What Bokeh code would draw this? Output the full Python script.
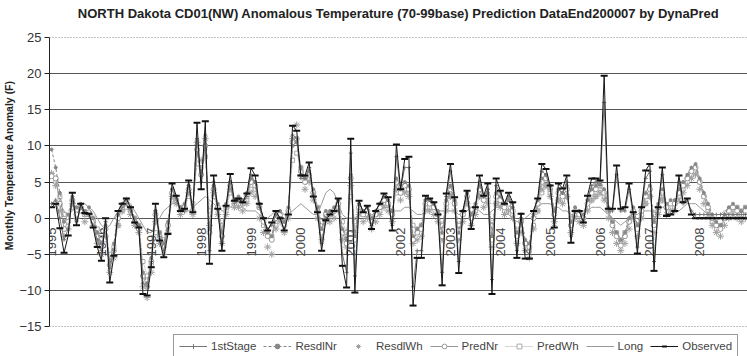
import math
from bokeh.plotting import figure
from bokeh.models import Range1d, FixedTicker, Span, Legend, LegendItem
from bokeh.core.properties import value
from bokeh.embed import file_html
from bokeh.resources import INLINE

FONT = "'Liberation Sans', Arial, sans-serif"

years = ["1995", "1996", "1997", "1998", "1999", "2000", "2001",
         "2002", "2003", "2004", "2005", "2006", "2007", "2008"]
months = list(range(168))  # Jan 1995 .. Dec 2008
year_pos = [12 * i for i in range(len(years))]

observed = [
    1.5, 2.0, -1.4, -4.8, -2.4, 3.5, -1.0, 2.0, 0.7, 0.6, -1.3, -4.0,
    -5.9, 0.0, -8.9, -5.2, 1.0, 2.0, 2.7, 1.5, -0.6, -1.3, -10.5, -10.7,
    -6.8, 2.0, -3.1, -5.4, -2.2, 4.8, 3.1, 1.0, 1.3, 5.2, 0.8, 13.2,
    4.0, 13.4, -6.3, 5.9, 1.3, -4.5, 1.7, 6.1, 2.4, 2.7, 2.2, 3.4,
    6.9, 5.9, 2.0, 0.0, -1.7, -0.6, 1.0, 0.0, -1.7, 0.5, 12.8, 12.1,
    5.9, 5.9, 7.7, 3.0, 0.8, -4.5, -0.3, 0.5, 1.0, 2.7, -6.6, -9.6,
    11.0, -10.3, 2.4, 0.8, 1.7, -1.5, 1.0, 2.0, 3.4, 2.9, -1.7, 10.2,
    4.0, 8.2, 8.5, -12.1, -5.5, -5.5, 3.1, 2.7, 2.2, 0.5, -9.3, 3.4,
    7.5, 2.9, -7.6, 1.0, 3.8, -1.5, 1.5, 5.9, 3.1, 4.8, -10.5, 5.5,
    3.8, 2.0, 3.5, 2.2, -5.5, 0.6, -5.6, -5.6, 1.0, 2.7, 7.5, 6.8,
    4.5, -1.3, 4.8, 4.1, 5.9, -3.4, 1.0, 1.0, -0.6, 3.1, 5.5, 5.5,
    5.2, 19.7, 1.3, 1.3, 7.3, 1.3, 1.5, 4.8, 0.8, -4.9, 1.5, 6.6,
    7.5, -7.3, 1.5, 7.0, 0.3, 0.5, 1.0, 5.9, 2.2, 2.7, 0.5, 0.0,
    0.0, 0.0, 0.0, 0.0, 0.0, 0.0, 0.0, 0.0, 0.0, 0.0, 0.0, 0.0,
]

first_stage = [
    2.0, 2.5, 0.0, -3.0, -1.5, 2.5, -0.5, 1.5, 0.5, 0.5, -1.0, -3.0,
    -4.5, -0.5, -7.0, -4.5, 0.5, 1.5, 2.0, 1.0, -0.5, -1.0, -9.0, -9.5,
    -6.0, 1.0, -2.5, -4.5, -1.5, 4.0, 2.5, 1.0, 1.0, 4.5, 1.0, 11.0,
    5.0, 11.5, -4.5, 5.0, 1.0, -3.5, 1.5, 5.0, 2.0, 2.5, 2.0, 3.0,
    6.0, 5.0, 1.5, 0.0, -1.5, -1.0, 0.5, 0.0, -1.5, 0.5, 11.5, 11.0,
    5.5, 5.5, 7.0, 3.0, 1.0, -3.5, 0.0, 0.5, 1.0, 2.5, -5.0, -7.5,
    9.0, -8.0, 2.0, 1.0, 1.5, -1.0, 1.0, 2.0, 3.0, 2.5, -1.0, 8.5,
    4.0, 7.0, 7.0, -9.5, -4.5, -4.5, 2.5, 2.5, 2.0, 0.5, -7.5, 3.0,
    6.5, 2.5, -6.0, 1.0, 3.5, -1.0, 1.5, 5.0, 3.0, 4.0, -8.5, 4.5,
    3.5, 2.0, 3.0, 2.0, -4.5, 0.5, -4.5, -5.0, 1.0, 2.5, 6.5, 6.0,
    4.0, -1.0, 4.0, 3.5, 5.0, -2.5, 1.0, 1.0, -0.5, 2.5, 4.5, 5.0,
    4.5, 16.0, 1.0, 1.0, 6.0, 1.0, 1.0, 4.0, 0.5, -4.0, 1.5, 5.5,
    6.5, -6.0, 1.5, 6.0, 0.5, 0.5, 1.0, 5.0, 2.0, 2.5, 1.0, 0.5,
    0.5, 0.5, 0.5, 0.5, 0.5, 0.5, 0.5, 0.5, 0.5, 0.5, 0.5, 0.5,
]

resdl_nr = [
    9.5, 7.0, 3.5, -0.5, 0.5, 3.0, 1.5, 2.0, 1.0, 1.5, 0.0, -2.0,
    -3.5, -1.0, -6.0, -3.5, 0.5, 2.0, 2.5, 1.5, 0.0, -1.0, -7.5, -9.0,
    -5.5, 1.0, -2.0, -3.5, -0.5, 4.0, 3.0, 1.5, 2.0, 4.5, 1.5, 9.0,
    6.5, 9.5, -1.5, 4.5, 2.0, -2.0, 2.0, 5.0, 2.5, 3.0, 2.5, 3.5,
    5.5, 5.0, 2.0, 0.0, -2.0, -2.5, 0.5, 1.0, -0.5, 1.5, 10.0, 10.5,
    7.0, 5.5, 6.5, 4.0, 1.5, -1.5, 1.0, 1.0, 1.5, 2.5, -1.5, -3.0,
    6.0, -2.5, 2.0, 1.0, 1.5, 0.0, 1.0, 2.0, 3.0, 2.5, 1.0, 5.5,
    4.0, 5.0, 4.5, -2.5, -1.5, -1.0, 2.5, 2.5, 2.0, 1.0, -2.0, 2.5,
    4.5, 2.5, -2.0, 1.0, 3.5, 0.5, 2.0, 4.5, 3.0, 3.5, -2.5, 3.5,
    3.0, 2.0, 2.5, 1.5, -2.0, 0.0, -3.0, -3.5, 0.5, 2.5, 5.5, 6.0,
    4.5, 1.0, 4.0, 3.5, 4.5, -0.5, 1.5, 1.0, 0.5, 2.5, 4.0, 4.5,
    5.0, 4.0, 1.5, -0.5, -2.0, -3.0, -2.0, 0.0, 1.5, -1.0, 1.5, 3.5,
    4.5, -0.5, 2.0, 4.0, 2.0, 2.5, 2.5, 4.0, 5.0, 6.0, 7.0, 7.5,
    5.5, 3.5, 2.0, 0.5, -0.5, -1.0, 0.5, 1.5, 2.0, 1.5, 1.0, 1.5,
]

resdl_wh = [
    6.2, 4.5, 1.0, -2.5, -1.5, 2.0, 0.0, 1.5, -0.5, 0.5, -1.0, -3.5,
    -5.0, -2.5, -7.5, -5.5, -1.0, 1.0, 2.5, 0.5, -1.0, -2.0, -9.5, -11.0,
    -7.5, -0.5, -3.5, -5.0, -2.0, 3.0, 2.0, 0.5, 1.0, 3.5, 0.5, 10.5,
    8.0, 11.0, -1.0, 3.5, 0.5, -3.5, 0.5, 4.0, 1.5, 1.5, 1.0, 2.0,
    3.5, 3.0, 0.0, -2.0, -4.0, -5.0, -1.5, -0.5, -2.0, 0.0, 11.0, 12.9,
    6.0, 4.0, 5.0, 2.5, 0.0, -3.0, -0.5, -0.5, 0.0, 1.0, -3.0, -4.0,
    4.5, -2.0, 0.5, -0.5, 0.0, -1.5, -0.5, 0.5, 1.5, 1.0, -0.5, 4.0,
    2.5, 3.5, 3.0, -3.5, -3.0, -2.5, 1.0, 1.0, 0.5, -0.5, -3.0, 1.0,
    3.0, 1.0, -3.0, -0.5, 2.0, -1.0, 0.5, 3.0, 1.5, 2.0, -4.0, 2.0,
    1.5, 0.5, 1.0, 0.0, -3.5, -2.0, -4.5, -5.5, -1.5, 1.0, 4.0, 4.5,
    3.0, -0.5, 2.5, 2.0, 3.0, -2.0, 0.0, -0.5, -1.0, 1.0, 2.5, 3.0,
    3.5, 2.5, 0.0, -2.0, -3.5, -4.5, -3.5, -1.5, 0.0, -2.5, 0.0, 2.0,
    3.0, -2.0, 0.5, 2.5, 0.5, 1.0, 1.0, 2.5, 3.5, 4.5, 5.5, 6.0,
    4.0, 2.0, 0.5, -1.0, -2.0, -2.5, -1.0, 0.0, 0.5, 0.0, -0.5, 0.0,
]

pred_nr = [
    5.8, 5.5, 2.0, -1.5, -0.5, 2.5, 0.5, 1.5, 0.5, 0.8, -0.5, -2.5,
    -4.0, -1.5, -6.5, -4.5, 0.0, 1.5, 2.0, 1.0, -0.5, -1.5, -8.0, -9.5,
    -6.0, 0.5, -2.5, -4.0, -1.0, 3.5, 2.5, 1.0, 1.5, 4.0, 1.0, 9.5,
    6.0, 10.0, -2.0, 4.0, 1.5, -2.5, 1.5, 4.5, 2.0, 2.5, 2.0, 3.0,
    5.0, 4.5, 1.5, -0.5, -2.5, -3.0, 0.0, 0.5, -1.0, 1.0, 10.5, 11.0,
    6.5, 5.0, 6.0, 3.5, 1.0, -2.0, 0.5, 0.5, 1.0, 2.0, -2.0, -3.5,
    5.5, -3.0, 1.5, 0.5, 1.0, -0.5, 0.5, 1.5, 2.5, 2.0, 0.5, 5.0,
    3.5, 4.5, 4.0, -3.0, -2.0, -1.5, 2.0, 2.0, 1.5, 0.5, -2.5, 2.0,
    4.0, 2.0, -2.5, 0.5, 3.0, 0.0, 1.5, 4.0, 2.5, 3.0, -3.0, 3.0,
    2.5, 1.5, 2.0, 1.0, -2.5, -0.5, -3.5, -4.0, 0.0, 2.0, 5.0, 5.5,
    4.0, 0.5, 3.5, 3.0, 4.0, -1.0, 1.0, 0.5, 0.0, 2.0, 3.5, 4.0,
    4.5, 3.5, 1.0, -1.0, -2.5, -3.8, -2.5, -0.5, 1.0, -1.5, 1.0, 3.0,
    4.0, -1.0, 1.5, 3.5, 1.5, 2.0, 2.0, 3.5, 4.5, 5.5, 6.5, 7.0,
    5.0, 3.0, 1.5, 0.0, -1.0, -1.5, 0.0, 1.0, 1.5, 1.0, 0.5, 1.0,
]

pred_wh = [
    6.0, 5.0, 3.0, 0.5, 0.0, 1.5, 1.0, 1.0, 0.5, 0.5, 0.0, -1.5,
    -3.0, -3.0, -5.0, -4.0, -1.0, 1.0, 1.5, 1.0, 0.0, -1.0, -6.0, -8.0,
    -6.5, -2.0, -2.0, -3.0, -1.0, 2.5, 2.5, 1.5, 1.5, 3.0, 2.0, 7.5,
    7.0, 8.5, 1.0, 3.0, 1.5, -1.0, 1.0, 3.5, 2.5, 2.0, 2.0, 2.5,
    4.0, 4.0, 1.5, -1.0, -2.0, -2.5, -1.0, 0.0, -0.5, 1.0, 8.0, 9.0,
    7.0, 5.5, 5.5, 3.5, 1.5, -0.5, 0.5, 0.5, 1.0, 1.5, -0.5, -2.0,
    3.0, -0.5, 1.0, 0.5, 0.5, 0.0, 0.5, 1.0, 2.0, 2.0, 1.0, 3.5,
    3.5, 4.0, 3.5, -1.0, -1.5, -1.0, 1.5, 1.5, 1.5, 0.5, -1.0, 1.5,
    3.0, 2.0, -1.0, 0.5, 2.0, 0.5, 1.0, 3.0, 2.5, 2.5, -1.0, 2.0,
    2.0, 1.0, 1.5, 0.5, -2.0, -1.5, -3.5, -4.5, -1.0, 1.0, 3.5, 4.5,
    3.5, 1.0, 2.5, 2.5, 3.0, 0.0, 0.5, 0.5, 0.0, 1.5, 2.5, 3.0,
    3.5, 3.0, 1.0, -0.5, -2.0, -3.0, -2.0, -0.5, 0.5, -1.0, 0.5, 2.0,
    3.0, 0.5, 1.0, 2.5, 1.5, 1.5, 2.0, 3.0, 4.0, 5.0, 6.0, 6.5,
    5.0, 3.0, 1.0, -0.5, -1.5, -1.0, 0.0, 1.0, 1.5, 1.5, 1.0, 1.5,
]

long_term = [
    2.0, 2.5, 2.0, 1.0, 0.5, 1.0, 1.5, 2.0, 2.0, 1.5, 1.0, 0.0,
    -1.0, -1.5, -1.0, 0.0, 1.0, 2.0, 2.5, 2.0, 1.0, 0.0, -1.0, -2.0,
    -2.0, -1.0, 0.0, 1.0, 1.5, 2.0, 2.0, 1.5, 1.0, 1.0, 1.5, 2.0,
    2.5, 3.0, 2.5, 2.0, 1.5, 1.0, 1.0, 1.5, 2.0, 2.0, 1.5, 1.0,
    1.0, 1.0, 0.5, 0.0, 0.0, 0.5, 1.0, 1.0, 0.5, 0.5, 1.0, 1.5,
    2.0, 1.5, 1.0, 0.5, 0.5, 2.0, 3.5, 4.0, 3.5, 2.0, 0.5, 0.0,
    0.0, 0.0, 0.5, 1.0, 1.0, 0.5, 0.5, 1.0, 1.5, 1.5, 1.0, 1.0,
    1.0, 1.5, 1.5, 1.0, 0.5, 0.5, 1.0, 1.5, 1.5, 1.0, 1.0, 1.0,
    1.0, 1.0, 0.5, 0.5, 1.0, 1.5, 1.5, 1.0, 0.5, 0.5, 1.0, 1.5,
    1.5, 1.0, 0.5, 0.0, -0.5, -0.5, 0.0, 0.5, 1.0, 1.5, 2.0, 2.0,
    2.0, 1.5, 1.5, 1.0, 1.0, 0.5, 0.5, 0.5, 1.0, 1.0, 1.5, 1.5,
    1.5, 1.0, 0.5, 0.0, -0.5, -1.0, -0.5, 0.0, 0.5, 0.5, 1.0, 1.0,
    1.0, 1.0, 1.0, 1.5, 1.5, 1.5, 1.0, 1.0, 1.5, 2.0, 2.0, 2.0,
    1.5, 1.0, 0.5, 0.5, 0.5, 0.5, 1.0, 1.0, 1.0, 1.0, 1.0, 1.0,
]

y_ticks = [-15, -10, -5, 0, 5, 10, 15, 20, 25]
title_text = ("NORTH Dakota CD01(NW) Anomalous Temperature (70-99base) "
              "Prediction DataEnd200007 by DynaPred")
y_title = "\u00a0" * 9 + "Monthly Temperature Anomaly (F)"

# The plot frame covers the full height of the canvas (title above, legend
# below are drawn inside it); the value axis itself stops at -15 and 25.
p = figure(width=747, height=356, output_backend="svg", toolbar_location=None,
           x_range=Range1d(-0.5, 167.5), y_range=Range1d(-19.15, 30.12),
           min_border_left=43, min_border_right=0, min_border_top=0,
           min_border_bottom=0, background_fill_color="white",
           border_fill_color="white")
p.outline_line_color = None
p.xgrid.visible = False
p.xaxis.visible = False

# y axis
p.yaxis.ticker = FixedTicker(ticks=y_ticks)
p.yaxis.bounds = (-15, 25)
p.yaxis.axis_label = y_title
p.yaxis.axis_label_text_font = FONT
p.yaxis.axis_label_text_font_size = "10.5px"
p.yaxis.axis_label_text_font_style = "bold"
p.yaxis.axis_label_text_color = "#222222"
p.yaxis.axis_label_standoff = 1
p.yaxis.major_label_text_font = FONT
p.yaxis.major_label_text_font_size = "13px"
p.yaxis.major_label_text_color = "#333333"
p.yaxis.major_label_standoff = 3
p.yaxis.major_tick_out = 5
p.yaxis.major_tick_in = 0
p.yaxis.minor_tick_out = 0
p.yaxis.minor_tick_in = 0
p.yaxis.axis_line_color = "#222222"
p.yaxis.major_tick_line_color = "#222222"

p.ygrid.ticker = FixedTicker(ticks=[-10, -5, 0, 5, 10, 15, 20])
p.ygrid.grid_line_color = "#555555"
p.ygrid.grid_line_width = 1
for loc in (25, -15):
    p.add_layout(Span(location=loc, dimension="width", line_color="#888888",
                      line_dash="1 2", line_width=1))

# chart title (drawn in the top strip of the frame)
p.text(x=[83.5], y=[28.32], text=[title_text], text_align="center",
       text_baseline="middle", text_font=value(FONT), text_font_size="13px",
       text_font_style="bold", text_color="#222222")

# year labels along the zero (category) axis
p.text(x=year_pos, y=[-1.3] * len(years), text=years, angle=math.pi / 2,
       text_align="right", text_baseline="middle", text_font=value(FONT),
       text_font_size="13px", text_color="#444444")

r_long = p.line(months, long_term, line_color="#9a9a9a", line_width=1)
r_pwh = p.line(months, pred_wh, line_color="#aaaaaa", line_width=1, line_dash="1 1")
m_pwh = p.scatter(months, pred_wh, marker="square", size=4, line_color="#aaaaaa",
                  fill_color="white", line_width=1)
r_rwh = p.scatter(months, resdl_wh, marker="asterisk", size=7,
                  line_color="#a0a0a0", line_width=1)
r_pnr = p.line(months, pred_nr, line_color="#999999", line_width=1)
m_pnr = p.scatter(months, pred_nr, marker="circle", size=5, line_color="#999999",
                  fill_color="white", line_width=1)
r_rnr = p.line(months, resdl_nr, line_color="#888888", line_width=1, line_dash="3 2")
m_rnr = p.scatter(months, resdl_nr, marker="circle", size=3, line_color="#888888",
                  fill_color="#888888")
r_fs = p.line(months, first_stage, line_color="#777777", line_width=1)
m_fs = p.scatter(months, first_stage, marker="cross", size=4, line_color="#777777",
                 line_width=1)
r_obs = p.line(months, observed, line_color="#161616", line_width=1)
m_obs = p.scatter(months, observed, marker="dash", size=7, line_color="#111111",
                  line_width=2)

legend = Legend(items=[
    LegendItem(label="1stStage", renderers=[r_fs, m_fs]),
    LegendItem(label="ResdlNr", renderers=[r_rnr, m_rnr]),
    LegendItem(label="ResdlWh", renderers=[r_rwh]),
    LegendItem(label="PredNr", renderers=[r_pnr, m_pnr]),
    LegendItem(label="PredWh", renderers=[r_pwh, m_pwh]),
    LegendItem(label="Long", renderers=[r_long]),
    LegendItem(label="Observed", renderers=[r_obs, m_obs]),
], orientation="horizontal", location=(124, -2))
legend.label_text_font = FONT
legend.label_text_font_size = "11.5px"
legend.label_text_color = "#444444"
legend.glyph_width = 28
legend.glyph_height = 12
legend.label_height = 12
legend.label_standoff = 4
legend.spacing = 7
legend.padding = 5
legend.margin = 0
legend.border_line_color = "#333333"
legend.border_line_width = 1
legend.background_fill_alpha = 1
p.add_layout(legend, "center")

open("out.html", "w").write(file_html(p, INLINE))
